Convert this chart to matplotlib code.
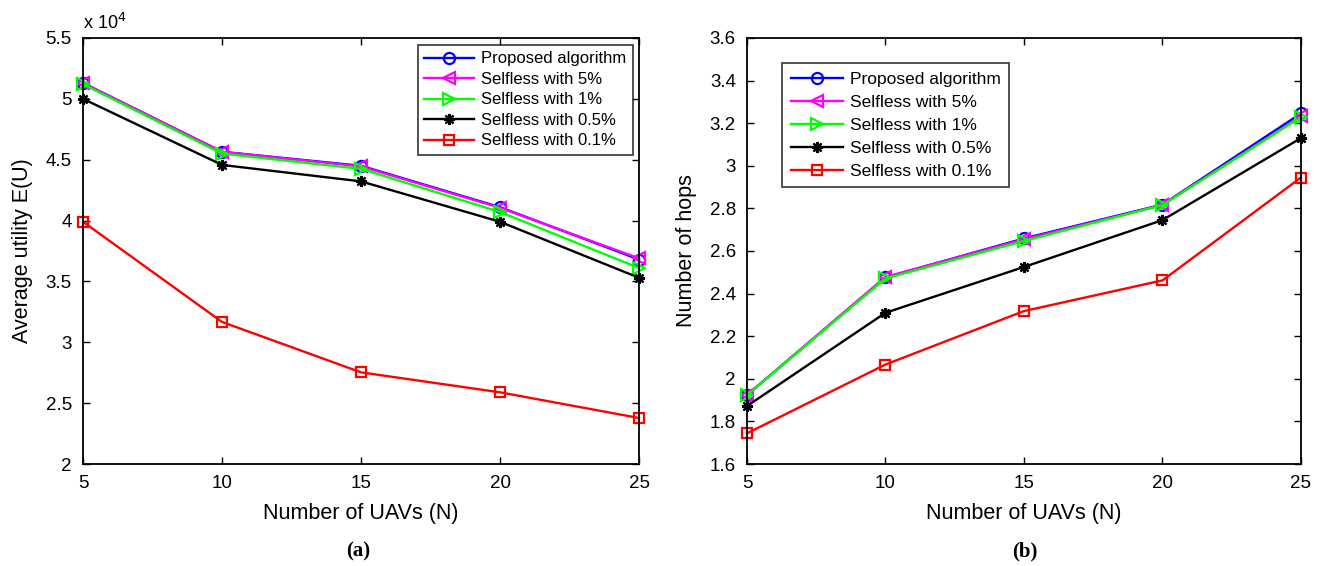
import numpy as np
import matplotlib
matplotlib.use('Agg')
import matplotlib.pyplot as plt
from matplotlib.ticker import FuncFormatter

plt.rcParams['font.family'] = ['Liberation Sans', 'DejaVu Sans']

uavs = [5, 10, 15, 20, 25]
labels = ['Proposed algorithm', 'Selfless with 5%', 'Selfless with 1%',
          'Selfless with 0.5%', 'Selfless with 0.1%']

# average utility, in units of 1e4
utility_proposed = [5.13, 4.565, 4.45, 4.11, 3.68]
utility_5 = [5.13, 4.565, 4.445, 4.105, 3.69]
utility_1 = [5.12, 4.55, 4.425, 4.07, 3.61]
utility_05 = [5.00, 4.457, 4.322, 3.99, 3.53]
utility_01 = [3.99, 3.167, 2.753, 2.589, 2.378]

hops_proposed = [1.924, 2.476, 2.659, 2.818, 3.246]
hops_5 = [1.924, 2.478, 2.655, 2.816, 3.232]
hops_1 = [1.924, 2.471, 2.647, 2.816, 3.228]
hops_05 = [1.872, 2.31, 2.525, 2.745, 3.13]
hops_01 = [1.744, 2.067, 2.318, 2.462, 2.945]

# (8, 2, 0) = eight-armed asterisk, like the MATLAB '*' marker
styles = [
    dict(color='#0000ff', marker='o', mfc='none', ms=8),
    dict(color='#ff00ff', marker='<', mfc='none', ms=8),
    dict(color='#00ff00', marker='>', mfc='none', ms=8),
    dict(color='black', marker=(8, 2, 0), mfc='black', ms=8),
    dict(color='#ff0000', marker='s', mfc='none', ms=7),
]


def style_axis(ax):
    ax.tick_params(direction='in', top=True, right=True, length=5,
                   labelsize=13.5, width=1, pad=8)
    for s in ax.spines.values():
        s.set_linewidth(1.3)
    ax.set_xlim(5, 25)
    ax.set_xticks(uavs)
    ax.set_xlabel('Number of UAVs (N)', fontsize=15.5, labelpad=8)


fig = plt.figure(figsize=(13.2, 5.66), dpi=100)
ax1 = fig.add_axes([0.0629, 0.1802, 0.4212, 0.7527])
ax2 = fig.add_axes([0.5659, 0.1802, 0.4197, 0.7527])

series_a = [utility_proposed, utility_5, utility_1, utility_05, utility_01]
series_b = [hops_proposed, hops_5, hops_1, hops_05, hops_01]

for vals, lab, st in zip(series_a, labels, styles):
    ax1.plot(uavs, vals, label=lab, lw=1.7, mew=1.6, clip_on=False, **st)
for vals, lab, st in zip(series_b, labels, styles):
    ax2.plot(uavs, vals, label=lab, lw=1.7, mew=1.6, clip_on=False, **st)

style_axis(ax1)
ax1.set_ylim(2, 5.5)
ax1.set_yticks(np.arange(2, 5.51, 0.5))
ax1.yaxis.set_major_formatter(FuncFormatter(lambda v, p: f'{v:g}'))
ax1.set_ylabel('Average utility E(U)', fontsize=15.5, labelpad=9)
ax1.text(0.0, 1.012, r'x 10$^{4}$', transform=ax1.transAxes, fontsize=13,
         ha='left', va='bottom')
leg1 = ax1.legend(loc='upper right', bbox_to_anchor=(0.989, 0.984), fontsize=12,
                  frameon=True, fancybox=False, edgecolor='black',
                  handlelength=3.0, borderpad=0.4, labelspacing=0.33,
                  handletextpad=0.4, borderaxespad=0.0)
leg1.get_frame().set_linewidth(1.2)

style_axis(ax2)
ax2.set_ylim(1.6, 3.6)
ax2.set_yticks(np.arange(1.6, 3.61, 0.2))
ax2.yaxis.set_major_formatter(FuncFormatter(lambda v, p: f'{round(v, 1):g}'))
ax2.set_ylabel('Number of hops', fontsize=15.5, labelpad=9)
leg2 = ax2.legend(loc='upper left', bbox_to_anchor=(0.063, 0.941), fontsize=12.5,
                  frameon=True, fancybox=False, edgecolor='black',
                  handlelength=3.0, borderpad=0.5, labelspacing=0.45,
                  handletextpad=0.4, borderaxespad=0.0)
leg2.get_frame().set_linewidth(1.2)

fig.text(0.2712, 0.016, '(a)', fontsize=15, fontweight='bold',
         family='Liberation Serif', ha='center')
fig.text(0.7765, 0.016, '(b)', fontsize=15, fontweight='bold',
         family='Liberation Serif', ha='center')

fig.savefig('out.png', dpi=100)
plt.close(fig)
